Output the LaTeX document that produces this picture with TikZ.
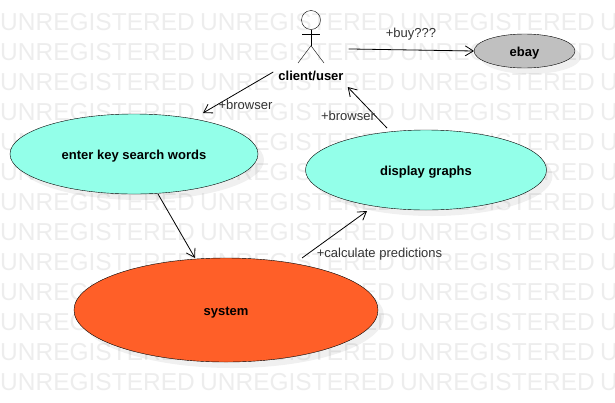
\documentclass[tikz,border=0pt]{standalone}
\usepackage{fontspec}
\setmainfont{Liberation Sans}
\usetikzlibrary{shapes.geometric, arrows.meta, positioning, shadows}

\definecolor{wmgray}{HTML}{EDEDED}
\definecolor{usecyan}{HTML}{93FFE9}
\definecolor{useorange}{HTML}{FF5F28}
\definecolor{usegray}{HTML}{C0C0C0}

\begin{document}
\begin{tikzpicture}[
    x=1pt, y=-1pt,
    usecase/.style={ellipse, draw, inner sep=0pt, outer sep=0pt, text height=10pt, text depth=0pt,
      font=\fontsize{13}{15}\selectfont\bfseries,
      drop shadow={shadow xshift=6pt, shadow yshift=-6pt, fill=black, opacity=0.06}},
    arrow/.style={-{Straight Barb[length=8pt, width=10pt]}, line width=0.8pt},
    elabel/.style={font=\fontsize{13}{15}\selectfont, text=black!80},
    wmark/.style={font=\fontsize{24.5}{26}\selectfont, text=wmgray, anchor=west, inner sep=0pt}
  ]
    \useasboundingbox (0,0) rectangle (615,402);

    % watermark
    \foreach \r in {0,...,12}
      \foreach \c in {0,...,3}
        \node[wmark] (wm\r\c) at (200*\c,22+30*\r) {UNREGISTERED};

    % use cases
    \node[usecase, fill=usecyan, minimum width=248pt, minimum height=80pt] (enter) at (134,154) {enter key search words};
    \node[usecase, fill=usecyan, minimum width=241pt, minimum height=80pt] (display) at (426,170) {display graphs};
    \node[usecase, fill=useorange, minimum width=304pt, minimum height=104pt] (system) at (226,310) {system};
    \node[usecase, fill=usegray, minimum width=101pt, minimum height=34pt] (ebay) at (524.5,51) {ebay};

    % actor
    \node[circle, draw, inner sep=0pt, minimum size=19pt] (head) at (311,20) {};
    \draw (head.south) -- ++(0,16) coordinate (hip);
    \draw (302,34) coordinate (armL) -- (320,34) coordinate (armR);
    \draw (hip) -- (298,63) coordinate (legL);
    \draw (hip) -- (324,63) coordinate (legR);
    \node[font=\fontsize{13}{15}\selectfont\bfseries, inner sep=0pt] (client) at (311,76) {client/user};

    % connectors
    \coordinate[above right=22pt and 5pt of client.north east] (clientout);
    \draw[arrow] (clientout) -- (ebay.west);
    \draw[arrow] ([xshift=-5pt,yshift=-1pt]client.north west) -- ([xshift=69pt,yshift=1pt]enter.north);
    \draw[arrow] ([xshift=-39pt,yshift=2pt]display.north) -- ([xshift=4pt,yshift=-6pt]client.south east);
    \draw[arrow] ([xshift=24pt]enter.south) -- ([xshift=-31pt]system.north);
    \draw[arrow] ([xshift=76pt,yshift=-0pt]system.north) -- ([xshift=-59pt,yshift=-1pt]display.south);

    % labels
    \node[elabel] (buy) at (411,34.5) {+buy???};
    \node[elabel] (browserA) at (245.5,104.5) {+browser};
    \node[elabel] (browserB) at (348,115.5) {+browser};
    \node[elabel] (calc) at (379.5,254) {+calculate predictions};
  \end{tikzpicture}
\end{document}
